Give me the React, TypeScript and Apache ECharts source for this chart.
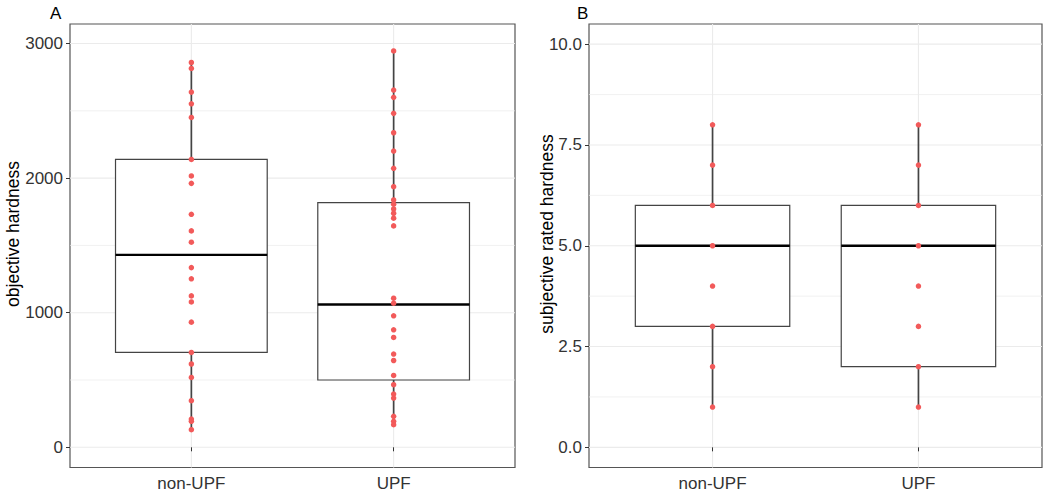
import React, { useEffect, useRef } from "react";
import * as echarts from "echarts";

const categories = ["non-UPF", "UPF"];

// Panel A: objective hardness (individual points)
const objNonUPF = [2859, 2815, 2639, 2552, 2451, 2139, 2016, 1961, 1731, 1608, 1524, 1335, 1252, 1125, 1080, 930, 705, 619, 519, 346, 210, 193, 131];
const objUPF = [2945, 2654, 2600, 2481, 2337, 2201, 2073, 1936, 1838, 1806, 1771, 1739, 1702, 1645, 1108, 1071, 977, 873, 816, 693, 645, 534, 465, 396, 366, 230, 193, 168];
// box stats: [min, Q1, median, Q3, max]
const objBoxNonUPF = [131, 705, 1430, 2139, 2859];
const objBoxUPF = [168, 500, 1061, 1818, 2945];

// Panel B: subjective rated hardness
const subjNonUPF = [1, 2, 3, 4, 5, 6, 7, 8];
const subjUPF = [1, 2, 3, 4, 5, 6, 7, 8];
const subjBoxNonUPF = [1, 3, 5, 6, 8];
const subjBoxUPF = [1, 2, 5, 6, 8];

const objTicks = [0, 1000, 2000, 3000];
const objMinor = [500, 1500, 2500];
const subjTicks = [0, 2.5, 5, 7.5, 10];
const subjMinor = [1.25, 3.75, 6.25, 8.75];

const FONT = "'Liberation Sans', Arial, Helvetica, sans-serif";
const RED = "#F25A5A";

function hGridSeries(idx: number, major: number[], minor: number[]) {
  const data = [...major.map((v) => [1, v, 1]), ...minor.map((v) => [1, v, 0])];
  return {
    type: "custom",
    xAxisIndex: idx,
    yAxisIndex: idx,
    silent: true,
    z: 0,
    data,
    encode: { x: 0, y: 1 },
    renderItem: (params: any, api: any) => {
      const y = api.coord([1, api.value(1)])[1];
      const cs = params.coordSys;
      return {
        type: "line",
        shape: { x1: cs.x, y1: y, x2: cs.x + cs.width, y2: y },
        style: { stroke: "#ebebeb", lineWidth: api.value(2) === 1 ? 1.1 : 0.7 },
      };
    },
  };
}

function vGridSeries(idx: number) {
  return {
    type: "custom",
    xAxisIndex: idx,
    yAxisIndex: idx,
    silent: true,
    z: 0,
    data: categories.map((_, i) => [i + 1]),
    encode: { x: 0 },
    renderItem: (params: any, api: any) => {
      const cs = params.coordSys;
      const x = api.coord([api.value(0), 0])[0];
      return {
        type: "line",
        shape: { x1: x, y1: cs.y, x2: x, y2: cs.y + cs.height },
        style: { stroke: "#ebebeb", lineWidth: 1.1 },
      };
    },
  };
}

function boxSeries(idx: number, boxes: number[][]) {
  return {
    type: "custom",
    xAxisIndex: idx,
    yAxisIndex: idx,
    silent: true,
    z: 1,
    data: boxes.map((b, i) => [i + 1, ...b]),
    encode: { x: 0, y: [1, 2, 3, 4, 5] },
    renderItem: (params: any, api: any) => {
      const x = api.value(0);
      const pMin = api.coord([x, api.value(1)]);
      const pQ1 = api.coord([x, api.value(2)]);
      const pMed = api.coord([x, api.value(3)]);
      const pQ3 = api.coord([x, api.value(4)]);
      const pMax = api.coord([x, api.value(5)]);
      const w = api.size([0.75, 0])[0];
      const cx = pMin[0];
      return {
        type: "group",
        children: [
          { type: "line", shape: { x1: cx, y1: pMax[1], x2: cx, y2: pQ3[1] }, style: { stroke: "#444", lineWidth: 1.7 } },
          { type: "line", shape: { x1: cx, y1: pQ1[1], x2: cx, y2: pMin[1] }, style: { stroke: "#444", lineWidth: 1.7 } },
          { type: "rect", shape: { x: cx - w / 2, y: pQ3[1], width: w, height: pQ1[1] - pQ3[1] }, style: { fill: "#fff", stroke: "#444", lineWidth: 1.2 } },
          { type: "line", shape: { x1: cx - w / 2, y1: pMed[1], x2: cx + w / 2, y2: pMed[1] }, style: { stroke: "#000", lineWidth: 2.4 } },
        ],
      };
    },
  };
}

function pointSeries(idx: number, groups: number[][]) {
  const data: number[][] = [];
  groups.forEach((g, i) => g.forEach((v) => data.push([i + 1, v])));
  return {
    type: "scatter",
    xAxisIndex: idx,
    yAxisIndex: idx,
    z: 3,
    symbolSize: 5.5,
    itemStyle: { color: RED, opacity: 1 },
    data,
    silent: true,
  };
}

function xAxis(idx: number) {
  return {
    type: "value",
    gridIndex: idx,
    min: 0.4,
    max: 2.6,
    axisLine: { show: false },
    axisTick: { show: true, customValues: [1, 2], length: 4, lineStyle: { color: "#333", width: 1 } },
    axisLabel: {
      show: true,
      customValues: [1, 2],
      formatter: (v: number) => categories[Math.round(v) - 1] ?? "",
      fontSize: 17,
      fontFamily: FONT,
      color: "#333",
      margin: 7,
    },
    splitLine: { show: false },
  };
}

function yAxis(idx: number, min: number, max: number, ticks: number[], fmt: (v: number) => string) {
  return {
    type: "value",
    gridIndex: idx,
    min,
    max,
    axisLine: { show: false },
    axisTick: { show: true, customValues: ticks, length: 4, lineStyle: { color: "#333", width: 1 } },
    axisLabel: {
      show: true,
      customValues: ticks,
      formatter: fmt,
      fontSize: 17,
      fontFamily: FONT,
      color: "#333",
      margin: 7,
    },
    splitLine: { show: false },
  };
}

export default function App() {
  const ref = useRef<HTMLDivElement>(null);
  useEffect(() => {
    if (!ref.current) return;
    const chart = echarts.init(ref.current, undefined, { renderer: "svg" });
    chart.setOption({
      animation: false,
      backgroundColor: "#fff",
      grid: [
        { left: 70, right: 535, top: 24, bottom: 29.5, show: true, borderColor: "#555", borderWidth: 1.2, backgroundColor: "transparent" },
        { left: 589, right: 8, top: 24, bottom: 29.5, show: true, borderColor: "#555", borderWidth: 1.2, backgroundColor: "transparent" },
      ],
      xAxis: [xAxis(0), xAxis(1)],
      yAxis: [
        yAxis(0, -150, 3145, objTicks, (v) => String(v)),
        yAxis(1, -0.5, 10.5, subjTicks, (v) => Number(v).toFixed(1)),
      ],
      graphic: [
        { type: "text", left: 50, top: 5, style: { text: "A", fontSize: 17, fontFamily: FONT, fill: "#000" } },
        { type: "text", left: 577, top: 5, style: { text: "B", fontSize: 17, fontFamily: FONT, fill: "#000" } },
        {
          type: "text",
          x: 13,
          y: 234,
          rotation: Math.PI / 2,
          style: { text: "objective hardness", fontSize: 17.5, fontFamily: FONT, fill: "#000", align: "center", verticalAlign: "middle" },
        },
        {
          type: "text",
          x: 547,
          y: 234,
          rotation: Math.PI / 2,
          style: { text: "subjective rated hardness", fontSize: 17.5, fontFamily: FONT, fill: "#000", align: "center", verticalAlign: "middle" },
        },
      ],
      series: [
        hGridSeries(0, objTicks, objMinor),
        vGridSeries(0),
        boxSeries(0, [objBoxNonUPF, objBoxUPF]),
        pointSeries(0, [objNonUPF, objUPF]),
        hGridSeries(1, subjTicks, subjMinor),
        vGridSeries(1),
        boxSeries(1, [subjBoxNonUPF, subjBoxUPF]),
        pointSeries(1, [subjNonUPF, subjUPF]),
      ],
    });
    return () => chart.dispose();
  }, []);
  return <div ref={ref} style={{ position: "fixed", left: 0, top: 0, width: 1050, height: 497 }} />;
}
